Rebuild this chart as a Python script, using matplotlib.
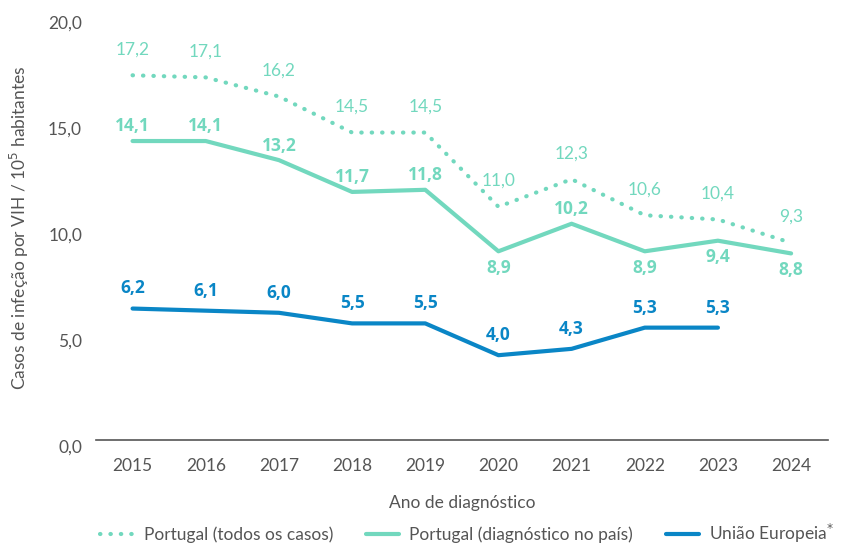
import numpy as np
import matplotlib.pyplot as plt
import matplotlib.transforms as mtransforms
from matplotlib.lines import Line2D

anos = [2015, 2016, 2017, 2018, 2019, 2020, 2021, 2022, 2023, 2024]
pt_todos = [17.2, 17.1, 16.2, 14.5, 14.5, 11.0, 12.3, 10.6, 10.4, 9.3]
pt_pais = [14.1, 14.1, 13.2, 11.7, 11.8, 8.9, 10.2, 8.9, 9.4, 8.8]
ue_anos = [2015, 2016, 2017, 2018, 2019, 2020, 2021, 2022, 2023]
ue = [6.2, 6.1, 6.0, 5.5, 5.5, 4.0, 4.3, 5.3, 5.3]
y_ticks = [0, 5, 10, 15, 20]

teal = '#72D8BE'
blue = '#0A86C6'
grey = '#555555'

plt.rcParams['font.family'] = ['Lato', 'DejaVu Sans']

fig = plt.figure(figsize=(8.42, 5.49), dpi=100)
ax = fig.add_axes([0.114, 0.1985, 0.869, 0.7725])

ax.plot(anos, pt_todos, color=teal, linewidth=3, linestyle=(0, (0.1, 2.4)),
        dash_capstyle='round')
ax.plot(anos, pt_pais, color=teal, linewidth=3, solid_capstyle='round')
ax.plot(ue_anos, ue, color=blue, linewidth=3, solid_capstyle='round')

def fmt(v):
    return ('%.1f' % v).replace('.', ',')

for x, v in zip(anos, pt_todos):
    ax.annotate(fmt(v), (x, v), xytext=(0, 13), textcoords='offset points',
                ha='center', va='bottom', color=teal, fontsize=12.5,
                fontweight='normal')

below = {2020, 2022, 2023, 2024}
for x, v in zip(anos, pt_pais):
    off = -5.5 if x in below else 4
    va = 'top' if x in below else 'bottom'
    ax.annotate(fmt(v), (x, v), xytext=(0, off), textcoords='offset points',
                ha='center', va=va, color=teal, fontsize=12.5,
                fontweight='bold', family='Open Sans')

for x, v in zip(ue_anos, ue):
    ax.annotate(fmt(v), (x, v), xytext=(0, 8), textcoords='offset points',
                ha='center', va='bottom', color=blue, fontsize=12.5,
                fontweight='bold', family='Open Sans')

ax.set_xlim(2014.5, 2024.5)
ax.set_ylim(0, 20)
ax.set_xticks(anos)
ax.set_xticklabels([str(a) for a in anos])
ax.set_yticks(y_ticks)
ax.set_yticklabels([fmt(t) for t in y_ticks])
ax.tick_params(length=0, colors=grey, labelsize=12.5)
ax.tick_params(axis='x', pad=13)
ax.tick_params(axis='y', pad=10)
shift = mtransforms.ScaledTranslation(0, -6 / 100, fig.dpi_scale_trans)
for lab in ax.get_yticklabels():
    lab.set_transform(lab.get_transform() + shift)
for s in ['top', 'right', 'left']:
    ax.spines[s].set_visible(False)
ax.spines['bottom'].set_color(grey)
ax.spines['bottom'].set_linewidth(1.2)

ax.set_xlabel('Ano de diagnóstico', color=grey, fontsize=12.5, labelpad=15)
ax.set_ylabel('Casos de infeção por VIH / 10$^{5}$ habitantes', color=grey,
              fontsize=12.5, labelpad=12)

handles = [
    Line2D([], [], color=teal, linewidth=3, linestyle=(0, (0.1, 2.4)),
           dash_capstyle='round'),
    Line2D([], [], color=teal, linewidth=3, solid_capstyle='round'),
    Line2D([], [], color=blue, linewidth=3, solid_capstyle='round'),
]
labels = ['Portugal (todos os casos)', 'Portugal (diagnóstico no país)',
          'União Europeia$^{*}$']
leg = fig.legend(handles, labels, loc='lower center', ncol=3, frameon=False,
                 bbox_to_anchor=(0.555, -0.022), fontsize=12.5,
                 handlelength=1.9, columnspacing=1.9, handletextpad=0.6)
for t in leg.get_texts():
    t.set_color(grey)

plt.savefig('out.png', dpi=100)
